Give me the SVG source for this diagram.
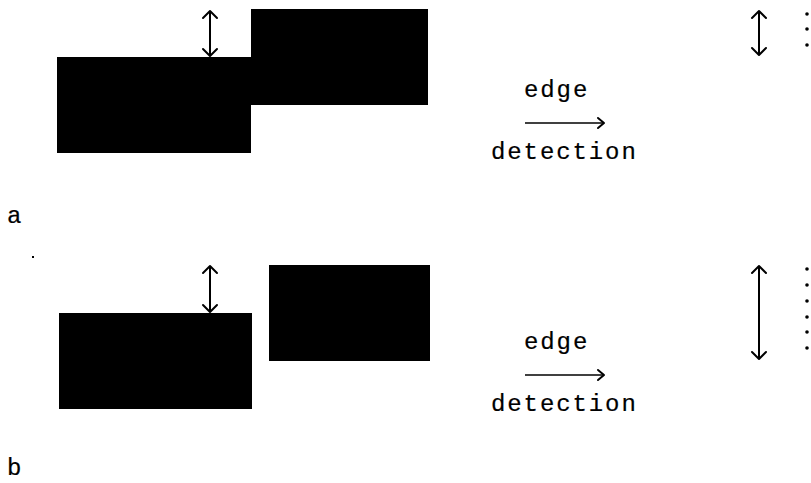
<svg xmlns="http://www.w3.org/2000/svg" width="811" height="483" viewBox="0 0 811 483">
  <style>
    .blk { fill: #000; }
    .lbl { font-family: "Liberation Mono", "Courier New", monospace; font-size: 24px; fill: #000; stroke: #000; stroke-width: 0.2; letter-spacing: 1.9px; }
    .tag { font-family: "Liberation Mono", "Courier New", monospace; font-size: 24px; fill: #000; stroke: #000; stroke-width: 0.2; }
    .ln { stroke: #000; stroke-width: 2; fill: none; }
    .hd { stroke: #000; stroke-width: 2; fill: none; stroke-linecap: round; stroke-linejoin: round; }
  </style>
  <rect width="811" height="483" fill="#fff"/>

  <!-- panel a: overlapping blocks -->
  <g id="a-block-left"><rect class="blk" x="57" y="57" width="194" height="96"/></g>
  <g id="a-block-right"><rect class="blk" x="251" y="9" width="177" height="96"/></g>

  <!-- panel b: separated blocks -->
  <g id="b-block-left"><rect class="blk" x="59" y="313" width="193" height="96"/></g>
  <g id="b-block-right"><rect class="blk" x="269" y="265" width="161" height="96"/></g>

  <g id="connectors">
    <!-- panel a offset arrow -->
    <line class="ln" x1="210" y1="11" x2="210" y2="56"/>
    <polyline class="hd" points="203,18 210,11 217,18"/>
    <polyline class="hd" points="203,49 210,56 217,49"/>
    <!-- panel a result arrow -->
    <line class="ln" x1="759" y1="11" x2="759" y2="55"/>
    <polyline class="hd" points="752,18 759,11 766,18"/>
    <polyline class="hd" points="752,48 759,55 766,48"/>
    <!-- panel a edge-detection arrow -->
    <line x1="525" y1="123" x2="604" y2="123" stroke="#000" stroke-width="1.6"/>
    <polyline class="hd" points="598,118 604,123 598,128" stroke-width="1.7"/>

    <!-- panel b offset arrow -->
    <line class="ln" x1="210" y1="266" x2="210" y2="312"/>
    <polyline class="hd" points="203,273 210,266 217,273"/>
    <polyline class="hd" points="203,305 210,312 217,305"/>
    <!-- panel b result arrow -->
    <line class="ln" x1="759" y1="266" x2="759" y2="359"/>
    <polyline class="hd" points="752,273 759,266 766,273"/>
    <polyline class="hd" points="752,352 759,359 766,352"/>
    <!-- panel b edge-detection arrow -->
    <line x1="525" y1="375" x2="604" y2="375" stroke="#000" stroke-width="1.6"/>
    <polyline class="hd" points="598,370 604,375 598,380" stroke-width="1.7"/>
  </g>

  <!-- dotted edge traces -->
  <g id="a-dots" fill="#000">
    <circle cx="807" cy="14" r="1.8"/>
    <circle cx="807" cy="29" r="1.8"/>
    <circle cx="807" cy="45" r="1.8"/>
  </g>
  <g id="b-dots" fill="#000">
    <circle cx="807" cy="269" r="1.8"/>
    <circle cx="807" cy="285" r="1.8"/>
    <circle cx="807" cy="301" r="1.8"/>
    <circle cx="807" cy="317" r="1.8"/>
    <circle cx="807" cy="332" r="1.8"/>
    <circle cx="807" cy="348" r="1.8"/>
  </g>

  <!-- labels -->
  <g id="a-labels">
    <text class="lbl" x="524" y="97">edge</text>
    <text class="lbl" x="491" y="159">detection</text>
    <text class="tag" x="7" y="223">a</text>
  </g>
  <g id="b-labels">
    <text class="lbl" x="524" y="349">edge</text>
    <text class="lbl" x="491" y="411">detection</text>
    <text class="tag" x="7" y="475">b</text>
  </g>
  <rect x="32" y="256" width="2" height="2" fill="#000"/>
</svg>
